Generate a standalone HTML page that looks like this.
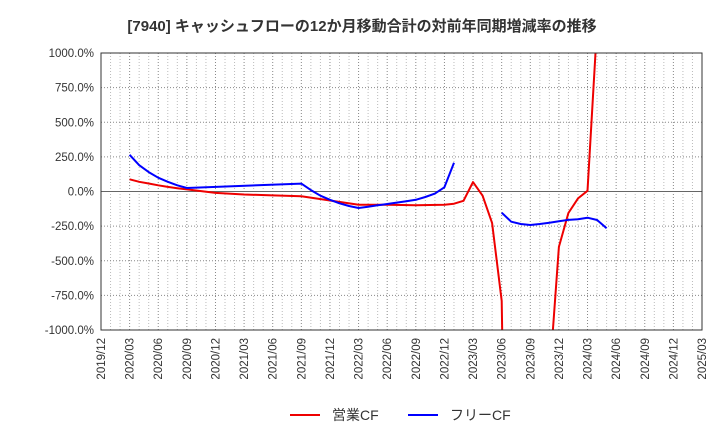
<!DOCTYPE html>
<html><head><meta charset="utf-8"><style>
html,body{margin:0;padding:0;background:#fff;width:720px;height:440px;overflow:hidden;}
svg{display:block;}
svg text{font-family:"Liberation Sans","Noto Sans CJK JP",sans-serif;}
</style></head><body>
<svg id="c" width="720" height="440" xmlns="http://www.w3.org/2000/svg">
<text x="362" y="31" text-anchor="middle" font-size="15" font-weight="bold" fill="#333">[7940]  キャッシュフローの12か月移動合計の対前年同期増減率の推移</text>
<defs><clipPath id="clip"><rect x="101" y="53" width="601" height="277"/></clipPath></defs>
<g id="grid"></g><g id="series" clip-path="url(#clip)"></g><g id="axes"></g>
<g>
<line x1="290" y1="415" x2="320" y2="415" stroke="#e00" stroke-width="2"/>
<text x="332" y="420" font-size="14" fill="#333">営業CF</text>
<line x1="408" y1="415" x2="438" y2="415" stroke="#00f" stroke-width="2"/>
<text x="450" y="420" font-size="14" fill="#333">フリーCF</text>
</g>
</svg>
<script>
const yTicks=[1000,750,500,250,0,-250,-500,-750,-1000];
const yTickLabels=["1000.0%","750.0%","500.0%","250.0%","0.0%","-250.0%","-500.0%","-750.0%","-1000.0%"];
const xTickLabels=["2019/12","2020/03","2020/06","2020/09","2020/12","2021/03","2021/06","2021/09","2021/12","2022/03","2022/06","2022/09","2022/12","2023/03","2023/06","2023/09","2023/12","2024/03","2024/06","2024/09","2024/12","2025/03"];
const opMonths=[3,4,5,6,7,8,9,12,15,18,21,24,27,30,33,36,37,38,39,40,41,42,43,44,45,46,47,48,49,50,51,52];
const opValues=[88,70,58,45,33,24,15,-10,-22,-28,-35,-65,-95,-95,-100,-95,-88,-67,68,-30,-228,-790,-5000,-5000,-5000,-5000,-1350,-400,-155,-50,5,1200];
const fcfMonths=[3,4,5,6,7,8,9,21,22,23,24,25,26,27,28,29,30,31,32,33,34,35,36,37,null,42,43,44,45,46,47,48,49,50,51,52,53];
const fcfValues=[265,190,140,100,70,45,25,57,10,-30,-60,-85,-105,-119,-110,-100,-90,-80,-70,-60,-40,-15,30,207,null,-153,-218,-235,-242,-235,-225,-215,-205,-200,-189,-206,-266];
const X0=101,X1=702,Y0=53,Y1=330;
const xs=m=>X0+(X1-X0)*m/63;
const ys=v=>Y1-(Y1-Y0)*(v+1000)/2000;
const NS="http://www.w3.org/2000/svg";
function mk(t,a,p){const e=document.createElementNS(NS,t);for(const k in a)e.setAttribute(k,a[k]);p.appendChild(e);return e;}
const grid=document.getElementById('grid'),axes=document.getElementById('axes'),ser=document.getElementById('series');
for(let m=0;m<=63;m++){const l=mk('line',{x1:xs(m),x2:xs(m),y1:Y0,y2:Y1,stroke:m%3?'#bbb':'#888','stroke-width':1,'stroke-dasharray':'1,2'},grid);

}
yTicks.forEach((v,i)=>{const l=mk('line',{x1:X0,x2:X1,y1:ys(v),y2:ys(v),stroke:v===0?'#666':'#888','stroke-width':1,'stroke-dasharray':v===0?'':'1,2'},grid);


const t=mk('text',{x:94,y:ys(v)+4,'text-anchor':'end','font-size':'11.5',fill:'#333'},axes);t.textContent=yTickLabels[i];

});
xTickLabels.forEach((s,i)=>{const x=xs(i*3);const t=mk('text',{x:0,y:0,'text-anchor':'end','font-size':'11.5',fill:'#333',transform:`translate(${x+4},338) rotate(-90)`},axes);t.textContent=s;

});
mk('rect',{x:X0,y:Y0,width:X1-X0,height:Y1-Y0,fill:'none',stroke:'#333','stroke-width':1},axes);
function draw(ms,vs,col,name){let d='',pen=false;ms.forEach((m,i)=>{if(m===null||vs[i]===null){pen=false;return;}d+=(pen?'L':'M')+xs(m).toFixed(1)+','+ys(vs[i]).toFixed(1);pen=true;});
const p=mk('path',{d:d,fill:'none',stroke:col,'stroke-width':2,'stroke-linejoin':'round'},ser);

}
draw(opMonths,opValues,'#e00','operating-cf-line');
draw(fcfMonths,fcfValues,'#00f','free-cf-line');
</script>
</body></html>
